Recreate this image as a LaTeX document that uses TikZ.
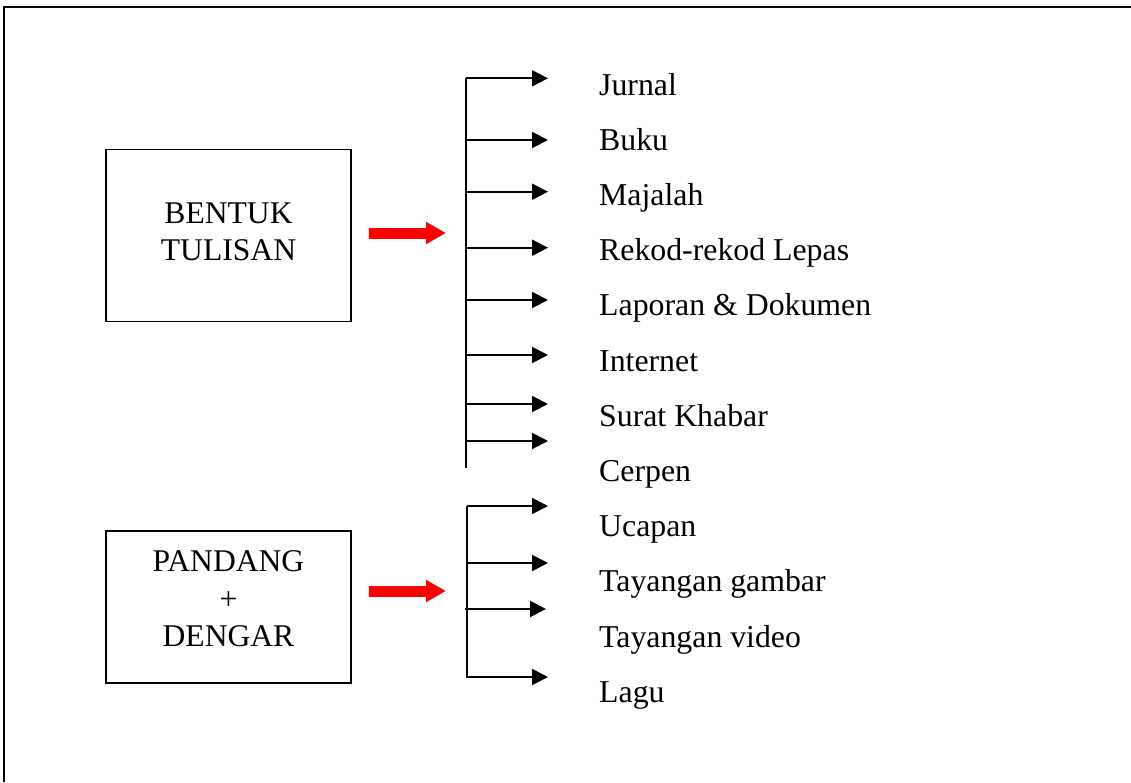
\documentclass[tikz,border=0pt]{standalone}
\usepackage{fontspec}
\setmainfont{Liberation Serif}
\usetikzlibrary{arrows.meta}
\begin{document}
\begin{tikzpicture}[x=1pt,y=-1pt,
  txt/.style={font=\fontsize{31.8}{37.5}\selectfont, inner sep=0pt, anchor=base west},
  boxlabel/.style={font=\fontsize{31.6}{37.5}\selectfont, inner sep=0pt, anchor=base},
  catbox/.style={draw, line width=1.8pt, minimum width=245pt, inner sep=0pt},
  spine/.style={line width=1.9pt},
  branch/.style={line width=1.9pt, -{Triangle[length=16pt,width=16pt]}},
  redarrow/.style={draw=red, line width=11pt, -{Triangle[length=20pt,width=21pt]}},
  frame/.style={line width=2.2pt}
]
\useasboundingbox (0,0) rectangle (1131,782);
% outer frame
\coordinate (fl) at (4,782);
\coordinate (fc) at (4,7);
\coordinate (fr) at (1131,7);
\draw[frame] (fl) -- (fc) -- (fr);

% boxes
\node[catbox, minimum height=172pt] (box1) at (228.5,235.5) {};
\node[boxlabel] (b1a) at (228.5,223) {BENTUK};
\node[boxlabel] (b1b) at (228.5,260.7) {TULISAN};

\node[catbox, minimum height=152pt] (box2) at (228.5,607) {};
\node[boxlabel] (b2a) at (228.5,571.7) {PANDANG};
\node[boxlabel] (b2b) at (228.5,609) {+};
\node[boxlabel] (b2c) at (228.5,646) {DENGAR};

% red arrows
\coordinate (r1s) at (369,233);
\coordinate (r1e) at (446,233);
\draw[redarrow] (r1s) -- (r1e);
\coordinate (r2s) at (369,591);
\coordinate (r2e) at (446,591);
\draw[redarrow] (r2s) -- (r2e);

% items
\foreach \i/\t in {0/Jurnal,1/Buku,2/Majalah,3/Rekod-rekod Lepas,4/Laporan \& Dokumen,5/Internet,6/Surat Khabar,7/Cerpen,8/Ucapan,9/Tayangan gambar,10/Tayangan video,11/Lagu}
  \node[txt] (item\i) at (599,95+55.2*\i) {\t};

% upper spine
\coordinate (s1t) at (466,77.5);
\coordinate (s1b) at (466,468);
\draw[spine] (s1t) -- (s1b);
\foreach \i/\y in {1/78.3,2/140,3/191.7,4/247.7,5/300,6/355,7/404,8/441}{
  \coordinate (ua\i) at (466,\y);
  \coordinate (ub\i) at (548,\y);
  \draw[branch] (ua\i) -- (ub\i);
}

% lower spine
\coordinate (s2t) at (467,505.5);
\coordinate (s2b) at (467,677.5);
\draw[spine] (s2t) -- (s2b);
\foreach \i/\y/\xa/\xb in {1/506/467/548,2/563/467/548,3/609/465/546,4/677/467/548}{
  \coordinate (la\i) at (\xa,\y);
  \coordinate (lb\i) at (\xb,\y);
  \draw[branch] (la\i) -- (lb\i);
}
\end{tikzpicture}
\end{document}
